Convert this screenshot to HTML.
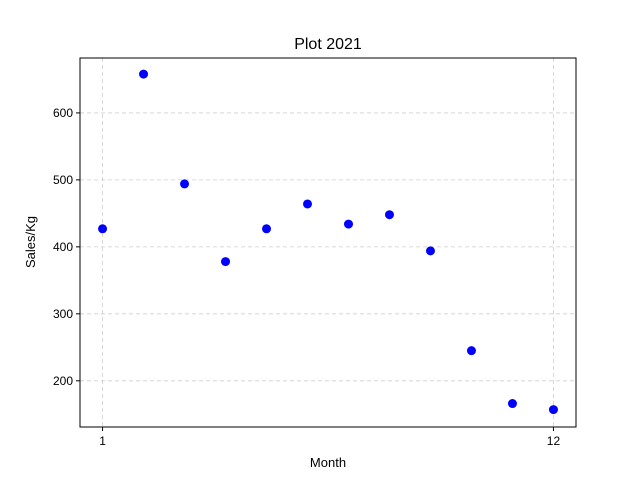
<!DOCTYPE html>
<html><head><meta charset="utf-8"><style>
body{margin:0;background:#fff;}
svg{display:block;font-family:"Liberation Sans","DejaVu Sans",sans-serif;}
</style></head><body>
<svg id="chart" width="640" height="480" xmlns="http://www.w3.org/2000/svg">
<rect width="640" height="480" fill="#fff"/>
<text x="328" y="49" font-size="16" text-anchor="middle">Plot 2021</text>
<g id="grid"></g>
<g id="ticks"></g>
<g id="points"></g>
<rect x="80" y="58" width="496" height="369" fill="none" stroke="#000" stroke-width="1"/>
<text x="328" y="467" font-size="13" text-anchor="middle">Month</text>
<text x="35" y="242" font-size="13" text-anchor="middle" transform="rotate(-90 35 242)">Sales/Kg</text>
</svg>
<script>
const months=[1,2,3,4,5,6,7,8,9,10,11,12];
const sales=[427,658,494,378,427,464,434,448,394,245,166,157];
const xTicks=[1,12];
const yTicks=[200,300,400,500,600];
const NS="http://www.w3.org/2000/svg";
const L=80,R=576,T=58,B=427,xmin=0.45,xmax=12.55,ymin=131,ymax=682;
function sx(v){return L+(v-xmin)/(xmax-xmin)*(R-L);}
function sy(v){return B-(v-ymin)/(ymax-ymin)*(B-T);}
function mk(tag,attrs,parent){const e=document.createElementNS(NS,tag);for(const k in attrs)e.setAttribute(k,attrs[k]);document.getElementById(parent).appendChild(e);return e;}
xTicks.forEach(t=>{const x=sx(t);
 const g=mk('line',{x1:x,x2:x,y1:T,y2:B,stroke:'#b0b0b0','stroke-dasharray':'4,3','stroke-width':0.8,opacity:0.6},'grid');
 
 
 const l=mk('line',{x1:x,x2:x,y1:B,y2:B+4,stroke:'#000'},'ticks');
 
 
 const tx=mk('text',{x:x,y:B+18,'font-size':12,'text-anchor':'middle'},'ticks');tx.textContent=t;
 
 
});
yTicks.forEach(t=>{const y=sy(t);
 const g=mk('line',{x1:L,x2:R,y1:y,y2:y,stroke:'#b0b0b0','stroke-dasharray':'4,3','stroke-width':0.8,opacity:0.6},'grid');
 
 
 const l=mk('line',{x1:L-4,x2:L,y1:y,y2:y,stroke:'#000'},'ticks');
 
 
 const tx=mk('text',{x:L-7,y:y+4,'font-size':12,'text-anchor':'end'},'ticks');tx.textContent=t;
 
 
});
months.forEach((m,i)=>{
 const c=mk('circle',{cx:sx(m),cy:sy(sales[i]),r:4.5,fill:'#0000ff'},'points');
 
 
});
</script>
</body></html>
